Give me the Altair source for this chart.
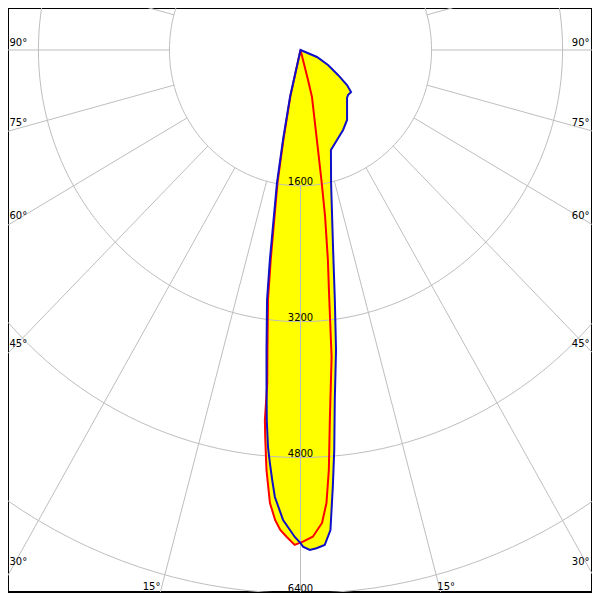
import altair as alt
import numpy as np
import pandas as pd

# ---- data (candela, gamma angle in degrees; 0 = straight down, + = right) ----
# C0-C180 plane (blue outline, yellow fill)
blue_angle = [-15.0, -13.0, -11.4, -10.4, -8.6, -7.9, -6.7, -6.0, -5.4, -4.85,
              -4.4, -3.9, -3.4, -2.2, -1.3, -0.7, 0.0, 0.3, 1.1, 1.9,
              2.9, 3.7, 4.4, 5.0, 5.8, 7.0, 8.1, 9.6, 13.4, 17.5,
              22.8, 28.9, 34.6, 45.2, 47.6, 51.3, 54.0, 57.3, 62.2, 67.8,
              80.0]
blue_cd = [0, 568, 1081, 1593, 2501, 2973, 3558, 3968, 4378, 4693,
           4878, 5077, 5274, 5540, 5655, 5736, 5807, 5850, 5890, 5872,
           5838, 5666, 5150, 4729, 4143, 3560, 2975, 2389, 1611, 1235,
           1150, 1076, 1001, 801, 786, 791, 702, 544, 380, 217,
           0]
# C90-C270 plane (red outline)
red_angle = [-15.0, -12.8, -11.2, -10.2, -8.4, -7.7, -6.55, -5.9, -5.7, -5.4,
             -4.8, -4.0, -3.2, -2.5, -1.7, -0.7, 0.3, 1.5, 2.7, 3.4,
             4.0, 4.7, 6.0, 7.0, 7.7, 8.7, 9.4, 10.3, 11.6, 14.2,
             14.6, 16.0]
red_cd = [0, 560, 1070, 1580, 2480, 2960, 3540, 3950, 4380, 4579,
          4964, 5349, 5545, 5659, 5735, 5830, 5791, 5735, 5577, 5345,
          4959, 4373, 3632, 2848, 2496, 1986, 1588, 1197, 878, 571,
          365, 0]

ring_values = [1600, 3200, 4800, 6400]
spoke_angles = list(range(-180, 180, 15))
angle_label_text = ["90°", "75°", "60°", "45°", "30°", "15°",
                    "90°", "75°", "60°", "45°", "30°", "15°"]

# ---- layout constants ----
W, H = 584, 584
SX, SY = 0.0819, 0.0849        # px per cd (x, y)
CX, CY = 292.5, 42.0           # pole position in plot pixels
XMIN, XMAX = -CX / SX, (W - CX) / SX
YMIN, YMAX = -(H - CY) / SY, CY / SY

xs = alt.Scale(domain=[XMIN, XMAX], nice=False, zero=False)
ys = alt.Scale(domain=[YMIN, YMAX], nice=False, zero=False)
X = lambda f="x": alt.X(f"{f}:Q", scale=xs, axis=None)
Y = lambda f="y": alt.Y(f"{f}:Q", scale=ys, axis=None)

polar = dict(x="datum.r * sin(datum.a * PI / 180)",
             y="-datum.r * cos(datum.a * PI / 180)")

blue_df = pd.DataFrame({"a": blue_angle, "r": blue_cd, "i": range(len(blue_cd))})
red_df = pd.DataFrame({"a": red_angle, "r": red_cd, "i": range(len(red_cd))})

circ_a = np.arange(0, 361, 2)
ring_df = pd.DataFrame([{"ring": v, "a": float(a), "r": v, "i": k}
                        for v in ring_values for k, a in enumerate(circ_a)])
spoke_df = pd.DataFrame([{"s": a, "a": a, "r": r, "i": k}
                         for a in spoke_angles for k, r in enumerate([1600, 12000])])

# angle labels placed in plot pixels, converted into data coordinates
lab_px = [1.5, 1.5, 1.5, 1.5, 1.5, 134.7, 581.5, 581.5, 581.5, 581.5, 581.5, 429.3]
lab_py = [38, 118, 211, 339, 557, 582, 38, 118, 211, 339, 557, 582]
lab_al = ["left"] * 6 + ["right"] * 5 + ["left"]
lab_df = pd.DataFrame({"t": angle_label_text, "px": lab_px, "py": lab_py, "al": lab_al})

grid_col = "#bebebe"
font = "DejaVu Sans"

fill_blue = alt.Chart(blue_df).mark_line(
    fill="#ffff00", strokeOpacity=0, interpolate="linear-closed", clip=True
).transform_calculate(**polar).encode(x=X(), y=Y(), order="i:Q")
fill_red = alt.Chart(red_df).mark_line(
    fill="#ffff00", strokeOpacity=0, interpolate="linear-closed", clip=True
).transform_calculate(**polar).encode(x=X(), y=Y(), order="i:Q")

rings = alt.Chart(ring_df).mark_line(
    color=grid_col, strokeWidth=1, clip=True
).transform_calculate(**polar).encode(x=X(), y=Y(), detail="ring:N", order="i:Q")

spokes = alt.Chart(spoke_df).mark_line(
    color=grid_col, strokeWidth=1, clip=True
).transform_calculate(**polar).encode(x=X(), y=Y(), detail="s:N", order="i:Q")

ring_labels = alt.Chart(pd.DataFrame({"r": ring_values})).mark_text(
    font=font, fontSize=10, color="black", align="center", baseline="alphabetic", dy=-1
).transform_calculate(x="0", y="-datum.r", t="toString(datum.r)").encode(
    x=X(), y=Y(), text="t:N")

def ang_labels(align):
    return alt.Chart(lab_df).transform_filter(f"datum.al == '{align}'").mark_text(
        font=font, fontSize=10, color="black", align=align, baseline="alphabetic"
    ).transform_calculate(
        x=f"{XMIN} + datum.px / {SX}", y=f"{YMAX} - datum.py / {SY}"
    ).encode(x=X(), y=Y(), text="t:N")

red_line = alt.Chart(red_df).mark_line(
    color="#ff0000", strokeWidth=2, interpolate="linear-closed", clip=True
).transform_calculate(**polar).encode(x=X(), y=Y(), order="i:Q")
blue_line = alt.Chart(blue_df).mark_line(
    color="#1010c8", strokeWidth=2, interpolate="linear-closed", clip=True
).transform_calculate(**polar).encode(x=X(), y=Y(), order="i:Q")

chart = alt.layer(
    fill_blue, fill_red, rings, spokes, ring_labels,
    ang_labels("left"), ang_labels("right"), red_line, blue_line
).properties(width=W, height=H, padding=0, background="white").configure_view(
    stroke="black", strokeWidth=2
)

chart.save("out.html", embed_options={"renderer": "svg", "actions": False})
